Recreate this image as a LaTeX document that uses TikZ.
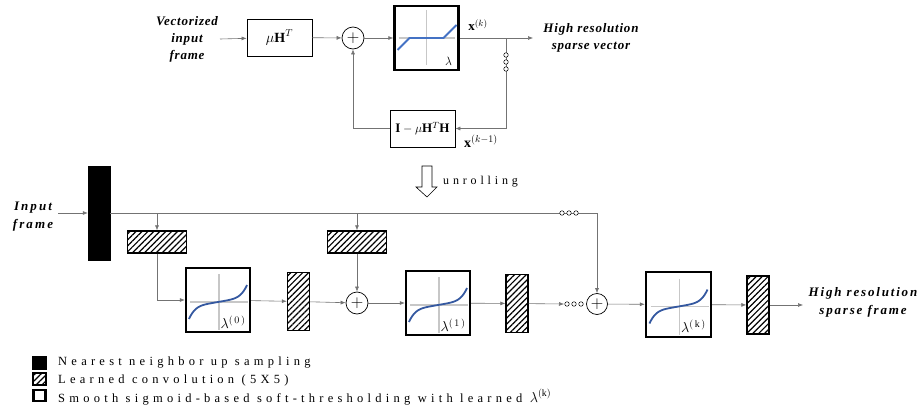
\documentclass[tikz,border=0pt]{standalone}
\usepackage{fontspec}
\setmainfont{Liberation Serif}
\usetikzlibrary{arrows.meta,positioning,patterns.meta,calc}
\definecolor{rampblue}{RGB}{68,114,196}
\definecolor{sigblue}{RGB}{52,88,160}

\begin{document}
\begin{tikzpicture}[x=1pt, y=-1pt, font=\fontsize{13}{16}\selectfont,
  box/.style={draw, line width=0.7pt, minimum width=65, minimum height=37, inner sep=0},
  thrbox/.style={draw, line width=2.4pt, minimum size=64, inner sep=0},
  hatchbox/.style={draw, line width=1.4pt, inner sep=0,
    pattern={Lines[angle=45, distance=4.2pt, line width=1.2pt]}},
  sumnode/.style={circle, draw, line width=0.7pt, minimum size=22, inner sep=0, font=\fontsize{19}{19}\selectfont},
  odot/.style={circle, draw, line width=0.5pt, fill=white, minimum size=4.5, inner sep=0},
  lbl/.style={align=center, font=\fontsize{13}{17}\selectfont\bfseries\itshape\addfontfeature{LetterSpace=6}, inner sep=0},
  spaced/.style={anchor=west, inner sep=0, font=\fontsize{12.5}{14}\selectfont\addfontfeature{LetterSpace=34}},
  conn/.style={draw=black!55, line width=0.6pt},
  a/.style={conn, -{Latex[length=5pt, width=4pt]}}]
  \useasboundingbox (0,0) rectangle (919,415);

  % iterative scheme
  \node[lbl] (vin) at (187,39) {Vectorized\\input\\frame};
  \node[box, font=\fontsize{14}{16}\selectfont] (muh) at (279.5,37.5) {$\mu\mathbf{H}^T$};
  \node[sumnode] (sum0) at (353,38) {$+$};
  \node[thrbox] (thr) at (426.5,38) {};
  \node[box] (fbbox) at (422.5,128.5) {$\mathbf{I}-\mu\mathbf{H}^T\mathbf{H}$};
  \coordinate (br) at (506,38);
  \coordinate (fb) at (506,128.5);
  \coordinate (outv) at (533,38);
  \node[lbl] (hrv) at (591,38) {High resolution\\sparse vector};
  \node (xk) at (478,25) {$\mathbf{x}^{(k)}$};
  \node[font=\fontsize{14}{16}\selectfont] (xk1) at (481,141) {$\mathbf{x}^{(k-1)}$};
  \draw[a] (vin.east -| 220,0) -- (muh);
  \draw[a] (muh) -- (sum0);
  \draw[a] (sum0) -- (thr);
  \draw[a] (thr) -- (outv);
  \draw[a] (br) -- (fb) -- (fbbox.east);
  \draw[a] (fbbox.west) -| (sum0.south);
  \node[odot] (v1) at (506,55) {};
  \node[odot] (v2) at (506,62) {};
  \node[odot] (v3) at (506,69) {};
  \begin{scope}[shift={(thr.center)}]
    \draw[black!22, line width=1.6pt] (-28,0) -- (28,0) (0,-28) -- (0,27);
    \draw[rampblue, line width=1.8pt] (-29,12) -- (-17,0) -- (17,0) -- (30,-13);
    \node at (22,23) {$\lambda$};
  \end{scope}

  % unrolling
  \draw[line width=0.6pt] (422,166) -- (432,166) -- (432,187) -- (437,187) -- (427,197)
    -- (416,187) -- (422,187) -- cycle;
  \node[spaced, font=\fontsize{12}{14}\selectfont\addfontfeature{LetterSpace=32}] (unr) at (443,182) {unrolling};

  % unrolled network
  \node[lbl, font=\fontsize{13}{18}\selectfont\bfseries\itshape\addfontfeature{LetterSpace=16}] (inp) at (33,217) {Input\\frame};
  \node[draw, fill=black, minimum width=22, minimum height=94, inner sep=0] (up) at (99,213) {};
  \node[hatchbox, minimum width=59, minimum height=22] (conv1) at (157,242) {};
  \node[hatchbox, minimum width=59, minimum height=22] (conv2) at (357,242) {};
  \node[thrbox, minimum size=64] (sig1) at (218,300) {};
  \node[hatchbox, minimum width=22, minimum height=58] (cb1) at (298.5,301.5) {};
  \node[sumnode] (sum1) at (357,303) {$+$};
  \node[thrbox, minimum size=64] (sig2) at (438,303) {};
  \node[hatchbox, minimum width=22, minimum height=58] (cb2) at (517,303.5) {};
  \coordinate (dd) at (564,304);
  \node[odot] (d1) at (567,304) {};
  \node[odot] (d2) at (574,304) {};
  \node[odot] (d3) at (581,304) {};
  \node[sumnode, minimum size=21] (sum2) at (597,304) {$+$};
  \node[thrbox, minimum size=65] (sig3) at (678.5,304.5) {};
  \node[hatchbox, minimum width=22, minimum height=58] (cb3) at (758,305) {};
  \coordinate (outf) at (803,305);
  \node[lbl, font=\fontsize{13}{18}\selectfont\bfseries\itshape\addfontfeature{LetterSpace=14}] (hrf) at (863,302) {High resolution\\sparse frame};
  \coordinate (c1) at (157,213);
  \coordinate (c2) at (357,213);
  \coordinate (c3) at (597,213);

  \draw[a] (58,213) -- (up.west);
  \draw[conn] (up.east |- c1) -- (c3);
  \draw[a] (c3) -- (sum2.north);
  \draw[a] (c1) -- (conv1.north);
  \draw[a] (c2) -- (conv2.north);
  \draw[a] (conv1.south) |- (sig1.west);
  \draw[a] (sig1) -- (cb1);
  \draw[a] (cb1) -- (sum1);
  \draw[a] (conv2) -- (sum1);
  \draw[a] (sum1) -- (sig2);
  \draw[a] (sig2) -- (cb2);
  \draw[a] (cb2) -- (dd);
  \draw[a] (sum2) -- (sig3);
  \draw[a] (sig3) -- (cb3);
  \draw[a] (cb3) -- (outf);
  \node[odot] (t1) at (562,213) {};
  \node[odot] (t2) at (569,213) {};
  \node[odot] (t3) at (576,213) {};

  \foreach \s/\l in {sig1/0, sig2/1, sig3/\mathrm{k}} {
    \begin{scope}[shift={(\s.center)}]
      \draw[black!22, line width=1.4pt] (-28,2) -- (30,2) (1,-26) -- (1,30);
      \draw[sigblue, line width=1.8pt, domain=-1:1, samples=40, smooth]
        plot ({29*\x}, {2-17*(0.3*\x+0.7*\x*\x*\x*\x*\x)});
      \node[font=\fontsize{14}{16}\selectfont] at (15,22) {$\lambda^{(\,\l\,)}$};
    \end{scope}
  }

  % legend
  \node[draw, fill=black, minimum width=14, minimum height=13, inner sep=0] (k1) at (39.5,362.5) {};
  \node[hatchbox, minimum width=13, minimum height=12, line width=1.4pt] (k2) at (39.5,379) {};
  \node[draw, line width=2.4pt, minimum width=12, minimum height=11, inner sep=0] (k3) at (39.5,395.5) {};
  \node[spaced] (l1) at (58,363) {Nearest neighbor up sampling};
  \node[spaced] (l2) at (58,380) {Learned convolution (5X5)};
  \node[spaced] (l3) at (58,397) {Smooth sigmoid-based soft-thresholding with learned {\fontsize{14}{16}\selectfont$\lambda^{(\mathrm{k})}$}};
\end{tikzpicture}
\end{document}
